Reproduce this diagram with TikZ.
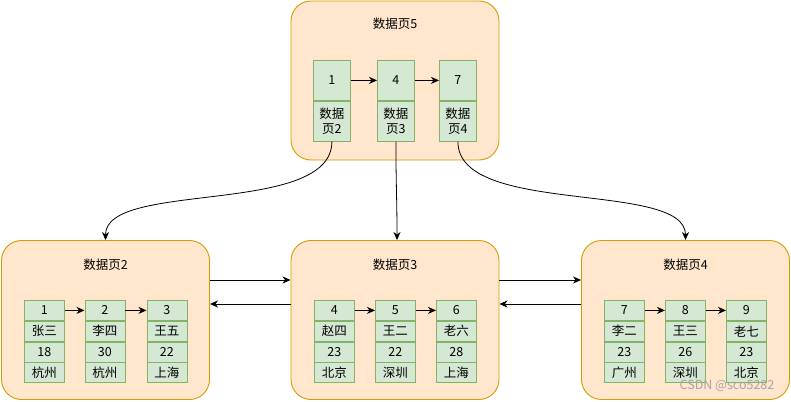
\documentclass[tikz,border=0pt]{standalone}
\usepackage{fontspec}
\setmainfont{Noto Sans CJK SC}
\usetikzlibrary{arrows.meta}
\definecolor{pagefill}{HTML}{FFE6CC}
\definecolor{pageline}{HTML}{D79B00}
\definecolor{cellfill}{HTML}{D5E8D4}
\definecolor{cellline}{HTML}{82B366}
\newcommand{\cellcol}[7]{%
  \node[cell,anchor=north west] (#1-1) at (#2,#3) {#4};
  \node[cell,anchor=north] (#1-2) at (#1-1.south) {#5};
  \node[cell,anchor=north] (#1-3) at (#1-2.south) {#6};
  \node[cell,anchor=north] (#1-4) at (#1-3.south) {#7};
}
\begin{document}
\begin{tikzpicture}[x=1pt,y=-1pt,
  page/.style={draw=pageline, fill=pagefill, rounded corners=20pt, minimum width=208pt, minimum height=159pt, inner sep=0pt, line width=0.9pt},
  cell/.style={draw=cellline, fill=cellfill, minimum width=40pt, minimum height=20pt, inner sep=0pt, font=\fontsize{12.5}{14}\selectfont, line width=0.8pt},
  tcell/.style={cell, minimum width=37pt, minimum height=40pt, align=center, font=\fontsize{12.5}{15.5}\selectfont},
  title/.style={font=\fontsize{12.5}{14}\selectfont},
  arr/.style={-{Stealth[length=8pt,width=7pt,inset=2.5pt]}, line width=0.8pt, black}]
\useasboundingbox (0,0) rectangle (791,401);
\fill[white] (0,0) rectangle (791,401);
% pages
\node[page] (T) at (395,80.5) {};
\node[page] (L) at (105.5,320) {};
\node[page] (M) at (395,320) {};
\node[page] (R) at (685.5,320) {};
\node[title] (Tt) at (395,24) {数据页5};
\node[title] (Lt) at (105.5,265) {数据页2};
\node[title] (Mt) at (395,265) {数据页3};
\node[title] (Rt) at (685.5,265) {数据页4};
% top cells
\node[tcell,anchor=north west] (T1a) at (313,60) {1};
\node[tcell,anchor=north] (T1b) at (T1a.south) {数据\\页2};
\node[tcell,anchor=north west] (T4a) at (377,60) {4};
\node[tcell,anchor=north] (T4b) at (T4a.south) {数据\\页3};
\node[tcell,anchor=north west] (T7a) at (439,60) {7};
\node[tcell,anchor=north] (T7b) at (T7a.south) {数据\\页4};
\draw[arr] (T1a) -- (T4a);
\draw[arr] (T4a) -- (T7a);
% bottom cells
\cellcol{L1}{24}{300}{1}{张三}{18}{杭州}
\cellcol{L2}{84.5}{300}{2}{李四}{30}{杭州}
\cellcol{L3}{146.5}{300}{3}{王五}{22}{上海}
\cellcol{M1}{314}{300}{4}{赵四}{23}{北京}
\cellcol{M2}{375}{300}{5}{王二}{22}{深圳}
\cellcol{M3}{436}{300}{6}{老六}{28}{上海}
\cellcol{R1}{604}{300}{7}{李二}{23}{广州}
\cellcol{R2}{665}{300}{8}{王三}{26}{深圳}
\cellcol{R3}{726}{300}{9}{老七}{23}{北京}
\draw[arr] (L1-1) -- (L2-1);
\draw[arr] (L2-1) -- (L3-1);
\draw[arr] (M1-1) -- (M2-1);
\draw[arr] (M2-1) -- (M3-1);
\draw[arr] (R1-1) -- (R2-1);
\draw[arr] (R2-1) -- (R3-1);
% page links
\draw[arr] ([yshift=40pt]L.east) -- ([yshift=40pt]M.west);
\draw[arr] ([yshift=16pt]M.west) -- ([yshift=16pt]L.east);
\draw[arr] ([yshift=40pt]M.east) -- ([yshift=40pt]R.west);
\draw[arr] ([yshift=16pt]R.west) -- ([yshift=16pt]M.east);
% curves from top page
\draw[arr] (T1b.south) .. controls +(0,75) and +(0,-60) .. (L.north);
\draw[arr] (T4b.south) .. controls +(0,40) and +(0,-40) .. ([xshift=2pt]M.north);
\draw[arr] (T7b.south) .. controls +(0,75) and +(0,-60) .. (R.north);
% watermark
\node[font=\fontsize{12.5}{14}\selectfont, text=black!35] (wm) at (727,386) {CSDN @sco5282};
\end{tikzpicture}
\end{document}
